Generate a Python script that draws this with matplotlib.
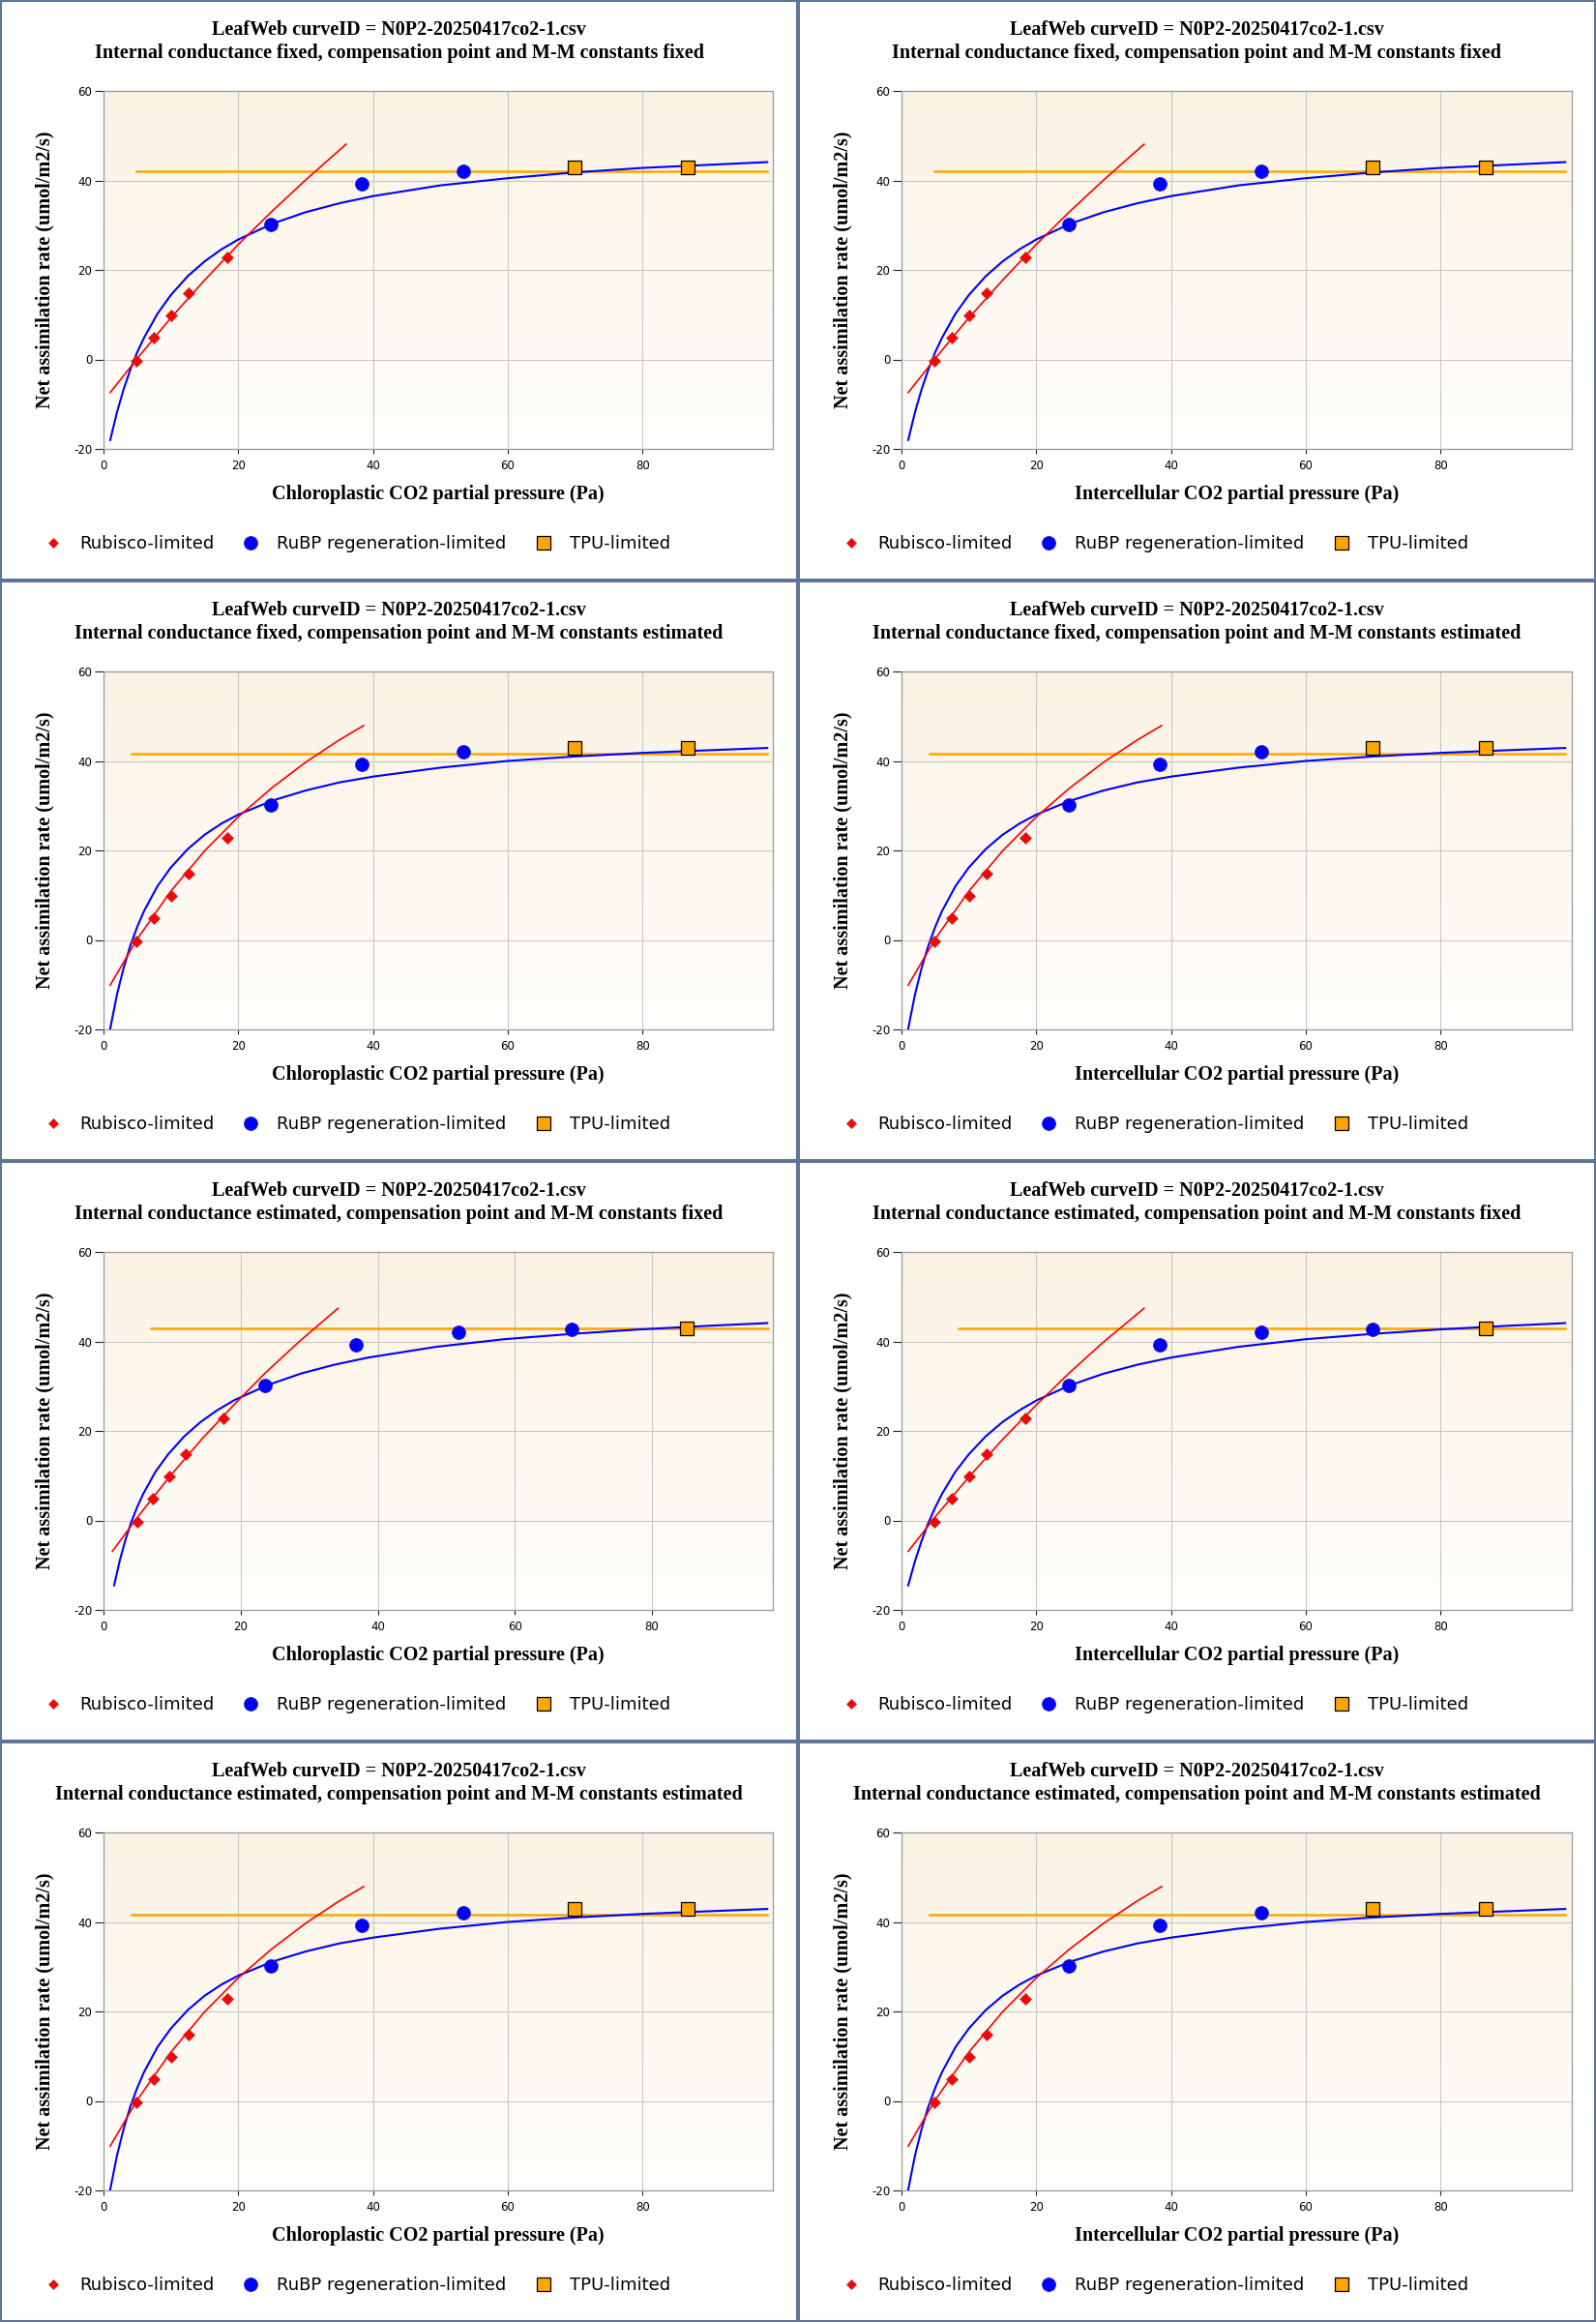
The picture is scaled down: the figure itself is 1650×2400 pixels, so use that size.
import matplotlib
matplotlib.use('Agg')
import matplotlib.pyplot as plt
import numpy as np
from matplotlib.lines import Line2D
from matplotlib.colors import LinearSegmentedColormap

plt.rcParams['font.family'] = 'DejaVu Sans'
plt.rcParams['axes.unicode_minus'] = False

# ---- measured points (same leaf curve in every panel) ----
ci_rubisco_x = [4.9, 7.4, 10.0, 12.6, 18.4]
rubisco_y = [-0.4, 4.9, 9.9, 14.8, 22.9]
ci_rubp_x = [24.8, 38.3, 53.4]
rubp_y = [30.2, 39.3, 42.1]
ci_tpu_x = [69.9, 86.7]
tpu_y = [42.9, 42.9]

# gm estimated + constants fixed: one more point is RuBP-limited
ci_rubp_x_3 = [24.8, 38.3, 53.4, 69.9]
rubp_y_3 = [30.2, 39.3, 42.1, 42.7]
ci_tpu_x_3 = [86.7]
tpu_y_3 = [42.9]
cc_rubisco_x_3 = [4.9, 7.2, 9.6, 12.0, 17.5]
cc_rubp_x_3 = [23.6, 36.8, 51.8, 68.3]
cc_tpu_x_3 = [85.1]

# ---- fitted curves ----
curve_x = [1, 2, 3, 4, 5, 6, 8, 10, 12.5, 15, 17.5, 20, 25, 30, 35, 40, 50, 60, 70, 80, 90, 98.5]

# gm fixed, constants fixed (row 1)
a_rub_x = [1, 5, 10, 15, 20, 25, 30, 36]
a_rub_y = [-7.4, 0.2, 9.3, 17.7, 25.7, 33.1, 40.1, 48.1]
a_rubp_y = [-18.0, -11.8, -6.6, -2.2, 1.6, 4.8, 10.2, 14.4, 18.6, 21.9, 24.6, 26.8,
            30.3, 32.9, 34.9, 36.5, 38.9, 40.5, 41.8, 42.8, 43.5, 44.1]
a_tpu_x = [4.9, 98.5]
a_tpu_y = [42.1, 42.1]

# constants estimated (rows 2 and 4)
b_rub_x = [1, 5, 10, 15, 20, 25, 30, 35, 38.6]
b_rub_y = [-10.1, 0.2, 10.9, 19.9, 27.5, 34.0, 39.7, 44.7, 47.9]
b_rubp_y = [-19.8, -12.2, -6.2, -1.2, 2.9, 6.4, 12.0, 16.2, 20.3, 23.5, 26.0, 28.0,
            31.1, 33.4, 35.2, 36.5, 38.5, 40.0, 41.0, 41.8, 42.4, 42.9]
b_tpu_x = [4.1, 98.5]
b_tpu_y = [41.7, 41.7]

# gm estimated, constants fixed, intercellular (row 3 right)
c_rub_x = [1, 5, 10, 15, 20, 25, 30, 36]
c_rub_y = [-6.9, 0.8, 9.7, 18.1, 25.8, 33.1, 39.9, 47.4]
c_rubp_y = [-14.5, -9.1, -4.5, -0.5, 2.9, 5.9, 10.9, 14.8, 18.8, 22.0, 24.6, 26.8,
            30.2, 32.8, 34.8, 36.4, 38.8, 40.5, 41.7, 42.7, 43.5, 44.1]
c_tpu_x = [8.5, 98.5]
c_tpu_y = [42.9, 42.9]

# gm estimated, constants fixed, chloroplastic (row 3 left)
d_rub_x = [1.3, 5.0, 9.6, 14.3, 19.0, 23.7, 28.5, 34.2]
d_rubp_x = [1.55, 2.35, 3.17, 4.02, 4.89, 5.78, 7.59, 9.44, 11.79, 14.16, 16.56, 18.98,
            23.85, 28.75, 33.68, 38.62, 48.52, 58.46, 68.41, 78.38, 88.35, 96.82]
d_tpu_x = [6.9, 96.9]

title1 = "LeafWeb curveID = N0P2-20250417co2-1.csv"
sub_titles = [
    "Internal conductance fixed, compensation point and M-M constants fixed",
    "Internal conductance fixed, compensation point and M-M constants estimated",
    "Internal conductance estimated, compensation point and M-M constants fixed",
    "Internal conductance estimated, compensation point and M-M constants estimated",
]
x_labels = ["Chloroplastic CO2 partial pressure (Pa)", "Intercellular CO2 partial pressure (Pa)"]
legend_labels = ["Rubisco-limited", "RuBP regeneration-limited", "TPU-limited"]

pts_std = (ci_rubisco_x, rubisco_y, ci_rubp_x, rubp_y, ci_tpu_x, tpu_y)
fit_a = (a_rub_x, a_rub_y, curve_x, a_rubp_y, a_tpu_x, a_tpu_y)
fit_b = (b_rub_x, b_rub_y, curve_x, b_rubp_y, b_tpu_x, b_tpu_y)
fit_c = (c_rub_x, c_rub_y, curve_x, c_rubp_y, c_tpu_x, c_tpu_y)
fit_d = (d_rub_x, c_rub_y, d_rubp_x, c_rubp_y, d_tpu_x, c_tpu_y)

# (row, col) -> points, fit, xmax
panels = {
    (0, 0): (pts_std, fit_a, 99.4),
    (0, 1): (pts_std, fit_a, 99.4),
    (1, 0): (pts_std, fit_b, 99.4),
    (1, 1): (pts_std, fit_b, 99.4),
    (2, 0): ((cc_rubisco_x_3, rubisco_y, cc_rubp_x_3, rubp_y_3, cc_tpu_x_3, tpu_y_3), fit_d, 97.7),
    (2, 1): ((ci_rubisco_x, rubisco_y, ci_rubp_x_3, rubp_y_3, ci_tpu_x_3, tpu_y_3), fit_c, 99.4),
    (3, 0): (pts_std, fit_b, 99.4),
    (3, 1): (pts_std, fit_b, 99.4),
}

W, H = 1650, 2400
PW, PH = 825, 600
fig = plt.figure(figsize=(16.5, 24), dpi=100)
fig.patch.set_facecolor('white')

bg = LinearSegmentedColormap.from_list('bg', ['#fffefc', '#fbf2e3'])
grad = np.linspace(0, 1, 256).reshape(-1, 1)

serif = 'Liberation Serif'

for (r, c), (pts, fit, xmax) in panels.items():
    x0 = PW * c
    y0 = PH * r
    left = (x0 + 107) / W
    bottom = 1 - (y0 + 464) / H
    ax = fig.add_axes([left, bottom, 692.5 / W, 370 / H])
    ax.imshow(grad, extent=[0, 1, 0, 1], transform=ax.transAxes, aspect='auto',
              cmap=bg, origin='lower', zorder=0)

    rx, ry, jx, jy, tx, ty = fit
    ax.plot(tx, ty, color='#ffa500', lw=1.8, zorder=3)
    ax.plot(jx, jy, color='#0000ff', lw=1.5, zorder=3)
    ax.plot(rx, ry, color='#ff0000', lw=1.2, zorder=3)

    px1, py1, px2, py2, px3, py3 = pts
    h1, = ax.plot(px1, py1, 'D', ms=6.0, color='#ff0000', mec='#b04040', mew=0.6, zorder=5)
    h2, = ax.plot(px2, py2, 'o', ms=10, color='#0000ff', mec='#2020c0', mew=0.6, zorder=5)
    h3, = ax.plot(px3, py3, 's', ms=10, color='#ffa500', mec='black', mew=0.9, zorder=5)

    ax.set_xlim(0, xmax)
    ax.set_ylim(-20, 60)
    ax.set_xticks([0, 20, 40, 60, 80])
    ax.set_yticks([-20, 0, 20, 40, 60])
    ax.grid(True, color='#c8c8c8', lw=0.8, zorder=1)
    ax.set_axisbelow(True)
    for s in ax.spines.values():
        s.set_color('#9a9a9a')
        s.set_linewidth(0.9)
    ax.tick_params(axis='y', length=6.5, width=0.8, pad=2, labelsize=8.5, color='#222222')
    ax.tick_params(axis='x', length=3.6, width=0.8, pad=4, labelsize=8.5, color='#222222')

    ax.set_xlabel(x_labels[c], family=serif, weight='bold', fontsize=14.5, labelpad=10)
    ax.set_ylabel("Net assimilation rate (umol/m2/s)", family=serif, weight='bold',
                  fontsize=14.5, labelpad=14)

    cx = (x0 + 412.5) / W
    fig.text(cx, 1 - (y0 + 31) / H, title1, ha='center', va='center',
             family=serif, weight='bold', fontsize=14.5)
    fig.text(cx, 1 - (y0 + 55) / H, sub_titles[r], ha='center', va='center',
             family=serif, weight='bold', fontsize=14.5)

    leg = fig.legend([h1, h2, h3], legend_labels, loc='center left',
                     bbox_to_anchor=((x0 + 46) / W, 1 - (y0 + 562) / H),
                     ncol=3, frameon=False, fontsize=13, handlelength=1.0,
                     handletextpad=1.0, columnspacing=1.6, borderpad=0,
                     borderaxespad=0)
    leg.legend_handles[0].set_markersize(5.5)

# panel frames
frame = '#5f7595'
for xv in [0, 825, 1650]:
    fig.add_artist(Line2D([xv / W, xv / W], [0, 1], color=frame, lw=2.9,
                          transform=fig.transFigure))
for yv in [0, 600, 1200, 1800, 2400]:
    fig.add_artist(Line2D([0, 1], [1 - yv / H, 1 - yv / H], color=frame, lw=2.9,
                          transform=fig.transFigure))

fig.savefig('out.png', dpi=100)
